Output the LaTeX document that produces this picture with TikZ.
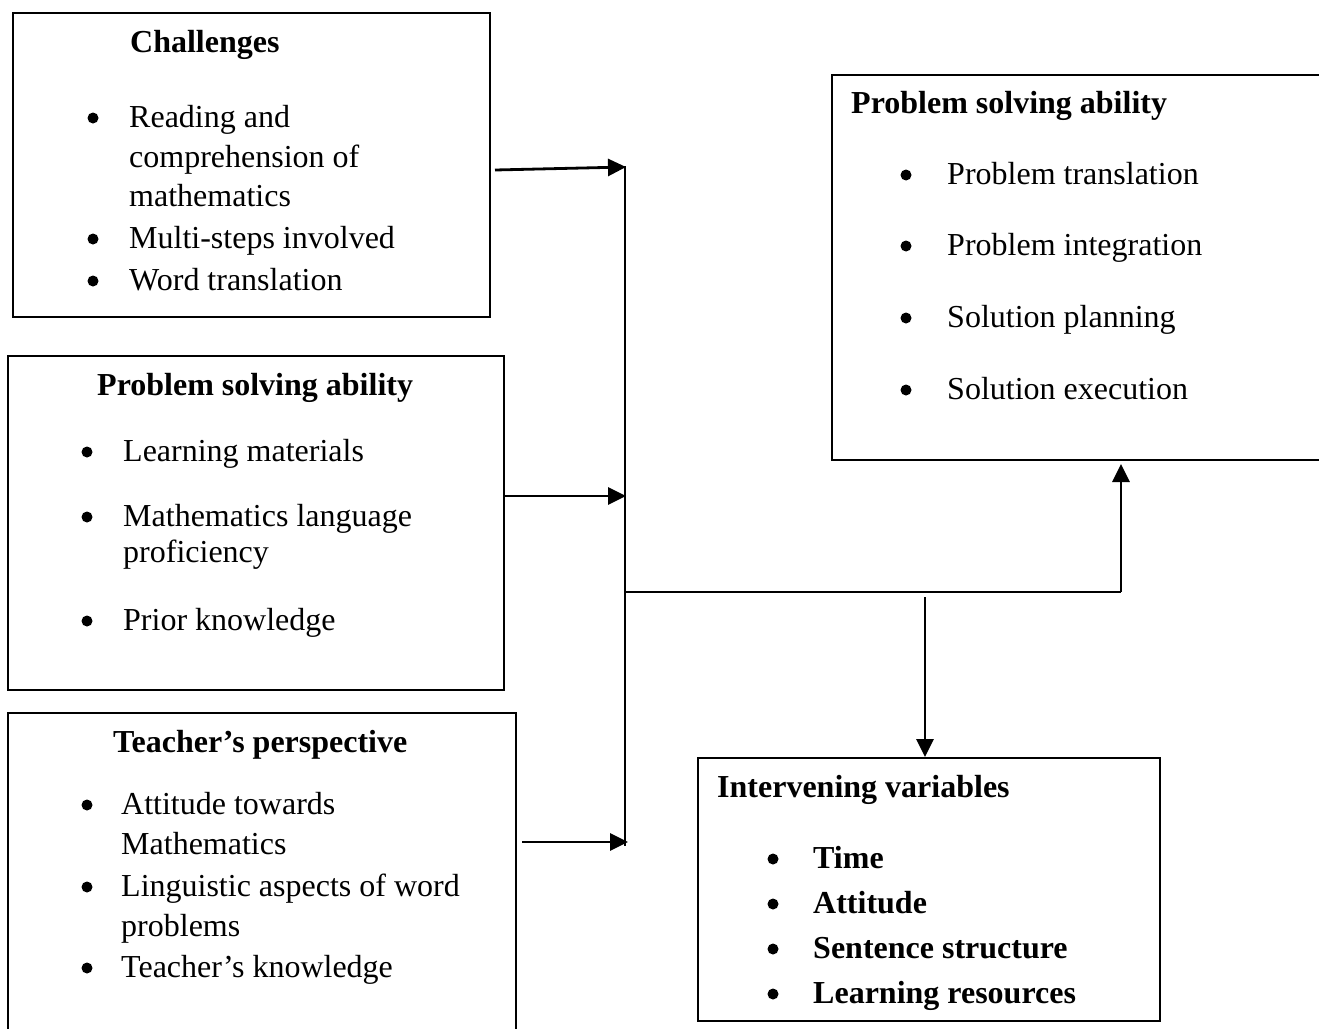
\documentclass[tikz,border=0pt]{standalone}
\usepackage{fontspec}
\setmainfont{Liberation Serif}
\usetikzlibrary{arrows.meta,calc}
\begin{document}
\begin{tikzpicture}[x=1pt,y=-1pt,
  box/.style={draw, line width=2pt, anchor=north west, inner sep=0pt},
  txt/.style={anchor=base west, inner sep=0pt, font=\fontsize{32}{40}\selectfont},
  ttl/.style={txt, font=\fontsize{32}{40}\selectfont\bfseries},
  bul/.style={circle, fill, inner sep=0pt, minimum size=11pt},
  conn/.style={line width=2.8pt},
  arr/.style={conn, -{Triangle[length=18pt,width=17pt]}}]
\useasboundingbox (0,0) rectangle (1319,1028);
\clip (0,0) rectangle (1319,1028);
% boxes
\node[box, minimum width=477pt, minimum height=304pt] (b1) at (12,12) {};
\node[box, minimum width=496pt, minimum height=334pt] (b2) at (7,355) {};
\node[box, minimum width=508pt, minimum height=340pt] (b3) at (7,712) {};
\node[box, minimum width=500pt, minimum height=385pt] (b4) at (831,74) {};
\node[box, minimum width=462pt, minimum height=263pt] (b5) at (697,757) {};
% box 1
\node[ttl] (t1) at (130,52) {Challenges};
\node[bul] (b1a) at (93,118) {};
\node[txt] (l1a) at (129,127) {Reading and};
\node[txt] (l1b) at (129,167) {comprehension of};
\node[txt] (l1c) at (129,206) {mathematics};
\node[bul] (b1b) at (93,239) {};
\node[txt] (l1d) at (129,248) {Multi-steps involved};
\node[bul] (b1c) at (93,281) {};
\node[txt] (l1e) at (129,290) {Word translation};
% box 2
\node[ttl] (t2) at (97,395) {Problem solving ability};
\node[bul] (b2a) at (87,452) {};
\node[txt] (l2a) at (123,461) {Learning materials};
\node[bul] (b2b) at (87,517) {};
\node[txt] (l2b) at (123,526) {Mathematics language};
\node[txt] (l2c) at (123,562) {proficiency};
\node[bul] (b2c) at (87,621) {};
\node[txt] (l2d) at (123,630) {Prior knowledge};
% box 3
\node[ttl] (t3) at (113,752) {Teacher’s perspective};
\node[bul] (b3a) at (87,805) {};
\node[txt] (l3a) at (121,814) {Attitude towards};
\node[txt] (l3b) at (121,854) {Mathematics};
\node[bul] (b3b) at (87,887) {};
\node[txt] (l3c) at (121,896) {Linguistic aspects of word};
\node[txt] (l3d) at (121,936) {problems};
\node[bul] (b3c) at (87,968) {};
\node[txt] (l3e) at (121,977) {Teacher’s knowledge};
% box 4
\node[ttl] (t4) at (851,113) {Problem solving ability};
\node[bul] (b4a) at (906,175) {};
\node[txt] (l4a) at (947,184) {Problem translation};
\node[bul] (b4b) at (906,246) {};
\node[txt] (l4b) at (947,255) {Problem integration};
\node[bul] (b4c) at (906,318) {};
\node[txt] (l4c) at (947,327) {Solution planning};
\node[bul] (b4d) at (906,390) {};
\node[txt] (l4d) at (947,399) {Solution execution};
% box 5
\node[ttl] (t5) at (717,797) {Intervening variables};
\node[bul] (b5a) at (773,859) {};
\node[ttl] (l5a) at (813,868) {Time};
\node[bul] (b5b) at (773,904) {};
\node[ttl] (l5b) at (813,913) {Attitude};
\node[bul] (b5c) at (773,949) {};
\node[ttl] (l5c) at (813,958) {Sentence structure};
\node[bul] (b5d) at (773,994) {};
\node[ttl] (l5d) at (813,1003) {Learning resources};
% connectors
\coordinate (jt) at (625,166);
\coordinate (j1) at (626,167);
\coordinate (j2) at (626,496);
\coordinate (j3) at (628,842);
\coordinate (jb) at (625,846);
\coordinate (jm) at (626,592);
\coordinate (jr) at (1121,592);
\coordinate (jd) at (925,597);
\draw[arr] ([xshift=4pt,yshift=-5pt]b1.east) -- (j1);
\draw[arr] (b2.east |- j2) -- (j2);
\draw[arr] ([xshift=5pt]b3.east |- j3) -- (j3);
\draw[conn] (jt) -- (jb);
\draw[conn] (jm) -- (jr);
\draw[arr] (jr) -- ([yshift=-3pt]b4.south -| jr);
\draw[arr] (jd) -- (jd |- b5.north);
\end{tikzpicture}
\end{document}
